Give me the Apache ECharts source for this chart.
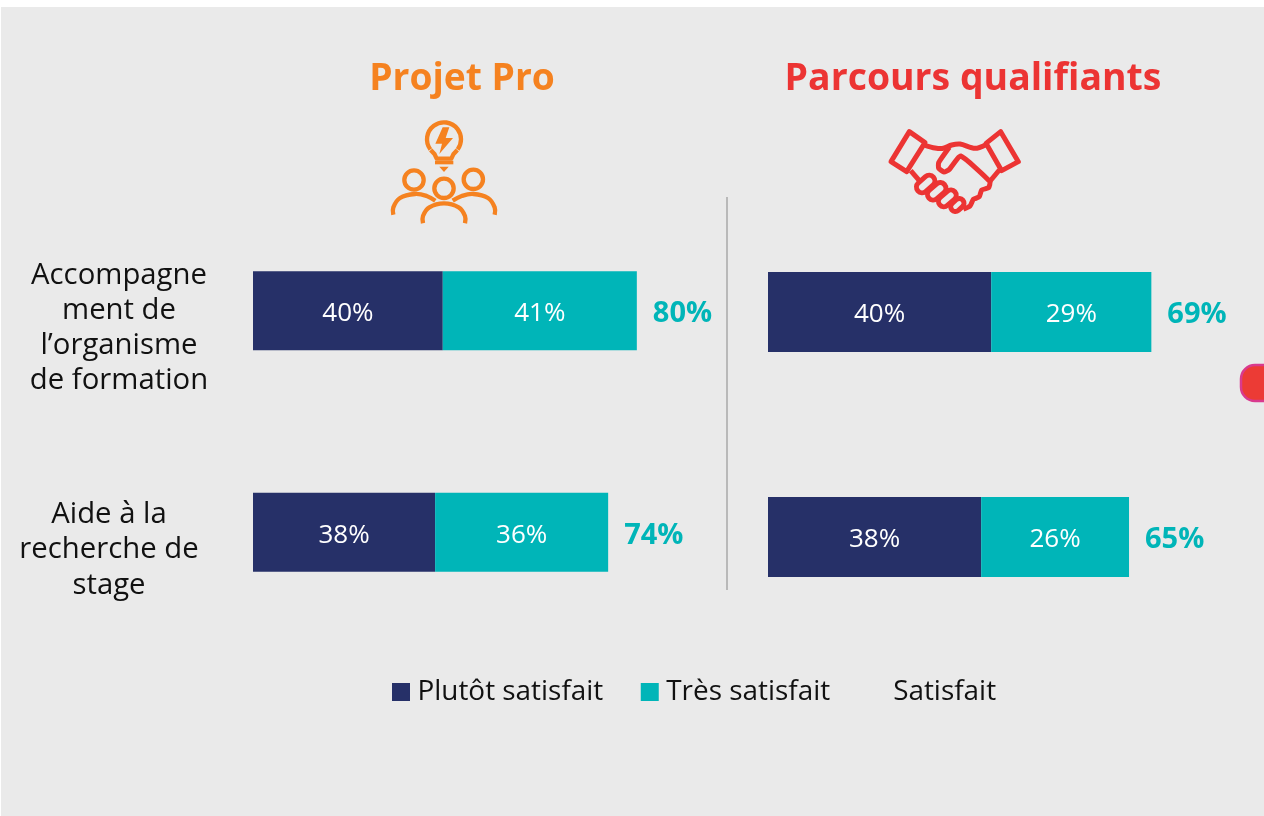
<!DOCTYPE html>
<html>
<head>
<meta charset="utf-8">
<script src="https://cdn.jsdelivr.net/npm/echarts@6/dist/echarts.min.js"></script>
<style>
  html, body { margin: 0; padding: 0; background: #fff; }
  #chart { width: 1264px; height: 816px; }
</style>
</head>
<body>
<div id="chart"></div>
<script>
const categories = ['Accompagne\nment de\nl\u2019organisme\nde formation', 'Aide \u00e0 la\nrecherche de\nstage'];
const titles = ['Projet Pro', 'Parcours qualifiants'];
const seriesNames = ['Plut\u00f4t satisfait', 'Tr\u00e8s satisfait', 'Satisfait'];

const proPlutot = [39.7, 38.1];
const proTres = [40.6, 36.2];
const proTotal = [80.3, 74.3];
const proPlutotLabels = ['40%', '38%'];
const proTresLabels = ['41%', '36%'];
const proTotalLabels = ['80%', '74%'];

const parcoursPlutot = [40, 38.2];
const parcoursTres = [28.7, 26.5];
const parcoursTotal = [68.7, 64.7];
const parcoursPlutotLabels = ['40%', '38%'];
const parcoursTresLabels = ['29%', '26%'];
const parcoursTotalLabels = ['69%', '65%'];

const FONT = '"Open Sans", sans-serif';
const NAVY = '#263068';
const TEAL = '#00B5B8';
const ORANGE = '#F58220';
const RED = '#EC3433';
const INK = '#111111';

// one stacked group plus an invisible bar that only carries the total label
function panelSeries(idx, plutot, tres, total, plutotLabels, tresLabels, totalLabels, barWidth) {
  const inside = (labels) => ({
    show: true, position: 'inside', offset: [0, 3], color: '#fff', fontFamily: FONT, fontSize: 26,
    formatter: (p) => labels[p.dataIndex]
  });
  return [
    { name: seriesNames[0], type: 'bar', stack: 'a' + idx, xAxisIndex: idx, yAxisIndex: idx, barWidth: barWidth,
      data: plutot, itemStyle: { color: NAVY }, label: inside(plutotLabels), silent: true },
    { name: seriesNames[1], type: 'bar', stack: 'a' + idx, xAxisIndex: idx, yAxisIndex: idx, barWidth: barWidth,
      data: tres, itemStyle: { color: TEAL }, label: inside(tresLabels), silent: true },
    { name: seriesNames[2], type: 'bar', stack: 'b' + idx, xAxisIndex: idx, yAxisIndex: idx, barWidth: barWidth, barGap: '-100%',
      data: total, itemStyle: { color: 'transparent' }, silent: true,
      label: { show: true, position: 'right', distance: 16, offset: [0, 3], color: TEAL, fontFamily: FONT, fontWeight: 'bold', fontSize: 29,
        formatter: (p) => totalLabels[p.dataIndex] } }
  ];
}

// icons, drawn in the 3x coordinates of a zoomed crop
function stroke(color, w) { return { stroke: color, fill: 'transparent', lineWidth: w || 13, lineCap: 'butt', lineJoin: 'round' }; }
function ring(cx, cy, r, color) { return { type: 'circle', shape: { cx, cy, r }, style: stroke(color) }; }
function line(points, color, smooth, w) { return { type: 'polyline', shape: { points, smooth: smooth || 0 }, style: stroke(color, w) }; }
function capsule(cx, cy, len, wid) {
  return { type: 'rect', x: cx, y: cy, rotation: 0.72, shape: { x: -len / 2, y: -wid / 2, width: len, height: wid, r: wid / 2 }, style: stroke(RED, 15) };
}

const orangeIcon = {
  type: 'group', x: 380, y: 110, scaleX: 1 / 3, scaleY: 1 / 3,
  children: [
    { type: 'arc', shape: { cx: 192, cy: 88, r: 51, startAngle: 2.5, endAngle: 0.64 + Math.PI * 2, clockwise: true }, style: stroke(ORANGE) },
    line([[152, 120], [164, 133], [170, 146], [214, 146], [220, 133], [232, 120]], ORANGE),
    { type: 'polygon', shape: { points: [[165, 152], [220, 152], [220, 163], [165, 163]] }, style: { fill: ORANGE } },
    { type: 'polygon', shape: { points: [[178, 170], [206, 170], [192, 186]] }, style: { fill: ORANGE } },
    { type: 'polygon', shape: { points: [[188, 52], [166, 101], [186, 101], [178, 132], [219, 84], [197, 84], [208, 52]] }, style: { fill: ORANGE } },
    ring(102, 210, 29, ORANGE),
    ring(192, 235, 29, ORANGE),
    ring(280, 208, 29, ORANGE),
    line([[40, 314], [40, 292], [60, 264], [105, 252], [140, 258], [166, 272]], ORANGE, 0.4),
    line([[129, 340], [129, 318], [148, 292], [192, 280], [236, 292], [255, 318], [255, 340]], ORANGE, 0.4),
    line([[344, 314], [344, 292], [324, 264], [280, 252], [245, 258], [218, 272]], ORANGE, 0.4)
  ]
};

const redIcon = {
  type: 'group', x: 880, y: 120, scaleX: 1 / 3, scaleY: 1 / 3,
  children: [
    { type: 'polygon', shape: { points: [[88, 35], [135, 68], [80, 155], [33, 125]] }, style: stroke(RED, 15) },
    { type: 'polygon', shape: { points: [[362, 35], [415, 125], [365, 152], [318, 70]] }, style: stroke(RED, 15) },
    line([[135, 76], [165, 84], [190, 85], [215, 75], [240, 72], [285, 85], [318, 74]], RED, 0.3, 15),
    line([[208, 82], [176, 128], [176, 145], [192, 156], [208, 148], [242, 108], [330, 185], [326, 203], [305, 210], [298, 230], [280, 238], [270, 258], [250, 268]], RED, 0.15, 15),
    line([[92, 152], [118, 182]], RED, 0, 15),
    line([[358, 150], [328, 186]], RED, 0, 15),
    capsule(137, 192, 62, 34),
    capsule(170, 214, 62, 34),
    capsule(202, 235, 60, 32),
    capsule(232, 255, 44, 28)
  ]
};

// row 2 sits further left than row 1, so its lines carry extra padding
const labelRich = {
  row1: { fontFamily: FONT, fontSize: 29.3, lineHeight: 35, color: INK },
  row2: { fontFamily: FONT, fontSize: 29.3, lineHeight: 35.5, color: INK, padding: [0, 20, 0, 0] }
};
function categoryLabel(value, index) {
  const style = index === 1 ? 'row2' : 'row1';
  return '{row1| }\n' + value.split('\n').map((l) => '{' + style + '|' + l + '}').join('\n');
}

const chart = echarts.init(document.getElementById('chart'), null, { renderer: 'canvas' });
chart.setOption({
  animation: false,
  backgroundColor: '#ffffff',
  textStyle: { fontFamily: FONT },
  title: [
    { text: titles[0], left: 457, top: 56, textAlign: 'center', textStyle: { color: ORANGE, fontFamily: FONT, fontWeight: 'bold', fontSize: 37.2 } },
    { text: titles[1], left: 968, top: 56, textAlign: 'center', textStyle: { color: RED, fontFamily: FONT, fontWeight: 'bold', fontSize: 37.4 } }
  ],
  legend: {
    left: 392, top: 678, padding: 0, itemWidth: 18, itemHeight: 18, itemGap: 37.5, selectedMode: false,
    data: seriesNames.map((n) => ({ name: n, icon: 'rect' })),
    textStyle: { color: INK, fontFamily: FONT, fontSize: 27.9, padding: [2, 0, 0, 2.5] }
  },
  grid: [
    { left: 253, top: 200, width: 430.2, height: 443 },
    { left: 768, top: 199.5, width: 446.4, height: 450 }
  ],
  xAxis: [
    { gridIndex: 0, type: 'value', min: 0, max: 90, show: false },
    { gridIndex: 1, type: 'value', min: 0, max: 80, show: false }
  ],
  yAxis: [
    { gridIndex: 0, type: 'category', inverse: true, data: categories,
      axisLine: { show: false }, axisTick: { show: false },
      axisLabel: { margin: 134, align: 'center', color: INK, fontFamily: FONT, fontSize: 29.3, lineHeight: 35, rich: labelRich, formatter: categoryLabel } },
    { gridIndex: 1, type: 'category', inverse: true, data: categories, axisLine: { show: false }, axisTick: { show: false }, axisLabel: { show: false } }
  ],
  series: [
    ...panelSeries(0, proPlutot, proTres, proTotal, proPlutotLabels, proTresLabels, proTotalLabels, 79),
    ...panelSeries(1, parcoursPlutot, parcoursTres, parcoursTotal, parcoursPlutotLabels, parcoursTresLabels, parcoursTotalLabels, 80)
  ],
  graphic: [
    { type: 'rect', z: -10, shape: { x: 1, y: 7, width: 1263, height: 809 }, style: { fill: '#EAEAEA' } },
    { type: 'line', shape: { x1: 727, y1: 197, x2: 727, y2: 590 }, style: { stroke: '#A8A8A8', lineWidth: 1.5 } },
    { type: 'rect', shape: { x: 1241, y: 365, width: 50, height: 36, r: 14 }, style: { fill: '#EC3B35', stroke: '#D93A8E', lineWidth: 2.5 } },
    orangeIcon,
    redIcon
  ]
});
</script>
</body>
</html>
